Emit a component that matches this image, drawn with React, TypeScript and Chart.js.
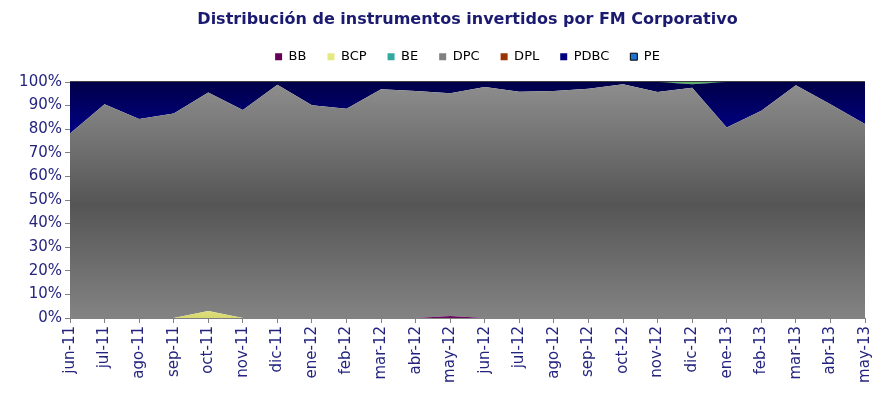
import React, { useEffect, useRef } from 'react';
import { Chart, registerables } from 'chart.js';
Chart.register(...registerables);

const labels = ['jun-11', 'jul-11', 'ago-11', 'sep-11', 'oct-11', 'nov-11', 'dic-11', 'ene-12', 'feb-12', 'mar-12', 'abr-12', 'may-12', 'jun-12', 'jul-12', 'ago-12', 'sep-12', 'oct-12', 'nov-12', 'dic-12', 'ene-13', 'feb-13', 'mar-13', 'abr-13', 'may-13'];

const BB = [0, 0, 0, 0, 0, 0, 0, 0, 0, 0, 0, 0.8, 0, 0, 0, 0, 0, 0, 0, 0, 0, 0, 0, 0];
const BCP = [0, 0, 0, 0, 3.0, 0, 0, 0, 0, 0, 0, 0, 0, 0, 0, 0, 0, 0, 0, 0, 0, 0, 0, 0];
const BE = [0, 0, 0, 0, 0, 0, 0, 0, 0, 0, 0, 0, 0, 0, 0, 0, 0, 0, 1.0, 0, 0, 0, 0, 0];
const DPC = [78.2, 90.6, 84.3, 86.6, 92.5, 88.1, 98.8, 90.2, 88.7, 96.9, 96.2, 94.4, 97.9, 95.9, 96.2, 97.1, 99.0, 95.8, 97.6, 80.7, 87.8, 98.6, 90.6, 82.2];
const DPL = [0, 0, 0, 0, 0, 0, 0, 0, 0, 0, 0, 0, 0, 0, 0, 0, 0, 0, 0, 0, 0, 0, 0, 0];
const PDBC = [21.8, 9.4, 15.7, 13.4, 4.5, 11.9, 1.2, 9.8, 11.3, 3.1, 3.8, 4.8, 2.1, 4.1, 3.8, 2.9, 1.0, 4.2, 1.4, 19.3, 12.2, 1.4, 9.4, 17.8];
const PE = [0, 0, 0, 0, 0, 0, 0, 0, 0, 0, 0, 0, 0, 0, 0, 0, 0, 0, 0, 0, 0, 0, 0, 0];

const yTicks = [0, 10, 20, 30, 40, 50, 60, 70, 80, 90, 100];
const legendOrder = ['BB', 'BCP', 'BE', 'DPC', 'DPL', 'PDBC', 'PE'];
const legendColors: Record<string, string> = {
  BB: '#660055', BCP: '#e8e880', BE: '#33a8a0', DPC: '#808080', DPL: '#993300', PDBC: '#000080', PE: '#1e73d2',
};

const FONT = 'DejaVu Sans, Verdana, sans-serif';

export default function App() {
  const ref = useRef<HTMLCanvasElement>(null);
  useEffect(() => {
    const canvas = ref.current;
    if (!canvas) return;
    const vgrad = (stops: [number, string][]) => (ctx: any) => {
      const chart = ctx.chart;
      const a = chart.chartArea;
      if (!a) return stops[0][1];
      const g = chart.ctx.createLinearGradient(0, a.top, 0, a.bottom);
      stops.forEach(([o, c]) => g.addColorStop(o, c));
      return g;
    };
    const base = {
      pointRadius: 0,
      pointHoverRadius: 0,
      borderWidth: 0,
      borderColor: 'transparent',
      tension: 0,
      fill: '-1',
    };
    const series: any[] = [
      { label: 'BB', data: BB, ...base, fill: 'origin', backgroundColor: '#6a0a5e' },
      { label: 'BCP', data: BCP, ...base, backgroundColor: vgrad([[0, '#f4f4b0'], [0.9, '#ecec9a'], [1, '#d8d870']]) },
      { label: 'DPC', data: DPC, ...base, backgroundColor: vgrad([[0, '#8e8e8e'], [0.52, '#555555'], [1, '#838383']]) },
      { label: 'DPL', data: DPL, ...base, backgroundColor: '#993300' },
      { label: 'PDBC', data: PDBC, ...base, backgroundColor: vgrad([[0, '#000048'], [0.22, '#000086'], [1, '#000080']]) },
      { label: 'BE', data: BE, ...base, backgroundColor: '#5cb06a' },
      { label: 'PE', data: PE, ...base, borderWidth: 1.5, borderColor: '#000000', backgroundColor: '#1e73d2', clip: 3 },
    ];
    const chart = new Chart(canvas, {
      type: 'line',
      data: { labels, datasets: series },
      options: {
        animation: false,
        responsive: false,
        events: [],
        layout: { padding: { left: 8, right: 21, top: 0, bottom: 0 } },
        plugins: {
          title: {
            display: true,
            fullSize: false,
            text: 'Distribución de instrumentos invertidos por FM Corporativo',
            color: '#1a1a70',
            font: { family: FONT, size: 16, weight: 'bold' },
            padding: { top: 10, bottom: 0 },
          },
          subtitle: {
            display: true,
            fullSize: false,
            text: '',
            weight: 500,
            font: { size: 1 },
            padding: { top: 0, bottom: 7.6 },
          } as any,
          legend: {
            display: true,
            fullSize: false,
            position: 'top',
            labels: {
              font: { family: FONT, size: 13 },
              color: '#3a3a5a',
              boxWidth: 7,
              boxHeight: 7,
              padding: 21,
              generateLabels: () =>
                legendOrder.map((name) => ({
                  text: name,
                  fillStyle: legendColors[name],
                  strokeStyle: name === 'PE' ? '#000000' : legendColors[name],
                  lineWidth: name === 'PE' ? 1 : 0,
                  hidden: false,
                  datasetIndex: series.findIndex((s) => s.label === name),
                })),
            },
          },
          tooltip: { enabled: false },
        },
        scales: {
          x: {
            offset: false,
            grid: { display: true, drawOnChartArea: false, drawTicks: true, tickLength: 5, color: '#808080' },
            border: { display: true, color: '#808080' },
            ticks: {
              autoSkip: false,
              minRotation: 90,
              maxRotation: 90,
              padding: 3,
              color: '#24247f',
              font: { family: FONT, size: 15 },
            },
            afterFit: (s: any) => { s.height = 82; },
          },
          y: {
            stacked: true,
            min: 0,
            max: 100,
            afterBuildTicks: (s: any) => { s.ticks = yTicks.map((v) => ({ value: v })); },
            grid: { display: true, drawOnChartArea: false, drawTicks: true, tickLength: 5, color: '#808080' },
            border: { display: true, color: '#808080' },
            ticks: {
              padding: 3,
              color: '#24247f',
              font: { family: FONT, size: 15 },
              callback: (v: any) => v + '%',
            },
            afterFit: (s: any) => { s.width = 62; },
          },
        },
      },
    });
    return () => chart.destroy();
  }, []);
  return (
    <div style={{ position: 'absolute', left: 0, top: 0, width: 886, height: 400 }}>
      <canvas ref={ref} width={886} height={400} style={{ display: 'block' }} />
    </div>
  );
}
